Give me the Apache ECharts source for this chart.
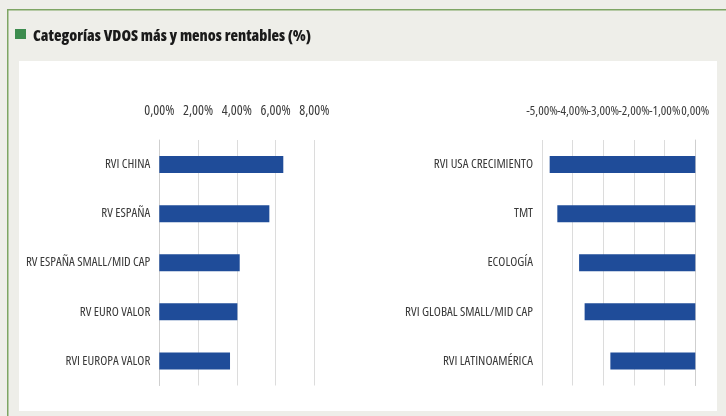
<!DOCTYPE html>
<html><head><meta charset="utf-8">
<script src="https://cdn.jsdelivr.net/npm/echarts@6/dist/echarts.min.js"></script>
<style>html,body{margin:0;padding:0;background:#eeeee9}#c{width:726px;height:416px}</style>
</head><body><div id="c"></div>
<script>
var titleText = 'Categorías VDOS más y menos rentables (%)';
var leftCategories = ['RVI CHINA','RV ESPAÑA','RV ESPAÑA SMALL/MID CAP','RV EURO VALOR','RVI EUROPA VALOR'];
var leftValues = [6.40, 5.68, 4.15, 4.03, 3.65];
var rightCategories = ['RVI USA CRECIMIENTO','TMT','ECOLOGÍA','RVI GLOBAL SMALL/MID CAP','RVI LATINOAMÉRICA'];
var rightValues = [-4.75, -4.50, -3.79, -3.61, -2.77];
var leftTicks = [0, 2, 4, 6, 8];
var rightTicks = [-5, -4, -3, -2, -1, 0];

var FONT = "'Open Sans', sans-serif";
function pct(v){ return v.toFixed(2).replace('.', ',') + '%'; }

var chart = echarts.init(document.getElementById('c'), null, {renderer:'canvas'});
// parity: null = every tick; 0/1 = only ticks whose index has that parity (the others get an empty label)
function xAx(idx, ticks, parity, split, fs){
  return {
    gridIndex: idx, type:'value', position:'top',
    min: ticks[0], max: ticks[ticks.length-1], interval: ticks[1]-ticks[0],
    axisLine:{show:false}, axisTick:{show:false},
    splitLine:{show:split, lineStyle:{color:'#dcdcdc', width:1}},
    axisLabel:{show:true, margin:22, color:'#3a3a3a', fontSize:fs, fontWeight:'normal condensed', fontFamily:FONT,
      formatter:function(v){
        var i = Math.round((v - ticks[0]) / (ticks[1]-ticks[0]));
        if (parity !== null && i % 2 !== parity) return '';
        return pct(v);
      }}
  };
}
function yAx(idx, cats){
  return {
    gridIndex: idx, type:'category', data:cats, inverse:true,
    axisLine:{show:true, lineStyle:{color:'#cfcfcf'}}, axisTick:{show:false},
    axisLabel:{margin:9, color:'#3a3a3a', fontSize:13, fontWeight:'normal condensed', fontFamily:FONT}
  };
}
chart.setOption({
  backgroundColor:'#eeeee9',
  animation:false,
  graphic:[
    {type:'rect', shape:{x:19, y:61, width:698, height:350}, style:{fill:'#ffffff'}, z:-10},
    {type:'rect', shape:{x:7, y:9, width:719, height:1.5}, style:{fill:'#7ea564'}, z:-5},
    {type:'rect', shape:{x:7, y:9, width:1.5, height:407}, style:{fill:'#7ea564'}, z:-5},
    {type:'rect', shape:{x:15, y:29, width:11, height:10}, style:{fill:'#3c8c4e'}},
    {type:'text', left:33, top:29, style:{text:titleText, fill:'#1a1a1a', font:"800 condensed 15.5px 'Open Sans'"}}
  ],
  grid:[
    {left:159.3, right:726-314.3, top:140, height:245.5, containLabel:false, outerBoundsMode:'none'},
    {left:542, right:726-695.3, top:140, height:245.5, containLabel:false, outerBoundsMode:'none'}
  ],
  xAxis:[xAx(0, leftTicks, null, true, 14), xAx(1, rightTicks, 0, true, 13), xAx(1, rightTicks, 1, false, 13)],
  yAxis:[yAx(0, leftCategories), yAx(1, rightCategories)],
  series:[
    {type:'bar', xAxisIndex:0, yAxisIndex:0, data:leftValues, barWidth:17, itemStyle:{color:'#1f4c99'}},
    {type:'bar', xAxisIndex:1, yAxisIndex:1, data:rightValues, barWidth:17, itemStyle:{color:'#1f4c99'}}
  ]
});
</script></body></html>
